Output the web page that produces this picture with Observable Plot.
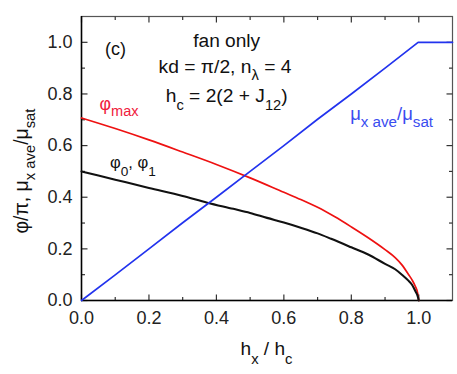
<!DOCTYPE html>
<html><head><meta charset="utf-8">
<script src="https://cdn.jsdelivr.net/npm/d3@7"></script>
<script src="https://cdn.jsdelivr.net/npm/@observablehq/plot@0.6"></script>
<style>body{margin:0;background:#fff} #chart svg{display:block}</style>
</head><body><div id="chart"></div>
<script>
// ---- data ----
const muX = [0, 0.1, 0.2, 0.3, 0.4, 0.5, 0.6, 0.7, 0.8, 0.9, 0.998, 1.1];
const muY = [0, 0.099, 0.2, 0.301, 0.4, 0.5, 0.6, 0.702, 0.8, 0.9, 1.0, 1.0];

const phiMaxX = [0, 0.1, 0.2, 0.3, 0.4, 0.5, 0.6, 0.65, 0.7, 0.75, 0.8, 0.85, 0.9, 0.93, 0.95, 0.97, 0.98, 0.99, 0.997, 1.0];
const phiMaxY = [0.707, 0.666, 0.622, 0.575, 0.527, 0.475, 0.419, 0.391, 0.361, 0.325, 0.285, 0.243, 0.197, 0.166, 0.138, 0.1, 0.08, 0.054, 0.027, 0];

const phi0X = [0, 0.1, 0.2, 0.3, 0.373, 0.45, 0.5, 0.55, 0.6, 0.65, 0.7, 0.74, 0.8, 0.85, 0.9, 0.93, 0.95, 0.97, 0.98, 0.99, 0.997, 1.0];
const phi0Y = [0.5, 0.468, 0.436, 0.405, 0.379, 0.355, 0.339, 0.32, 0.302, 0.282, 0.26, 0.239, 0.206, 0.178, 0.142, 0.121, 0.1, 0.076, 0.061, 0.036, 0.016, 0];

const majorTicks = [0, 0.2, 0.4, 0.6, 0.8, 1.0];
const minorTicks = [0.1, 0.3, 0.5, 0.7, 0.9];

const toRows = (xs, ys) => xs.map((x, i) => ({x, y: ys[i]}));
const muRows = toRows(muX, muY);
const phiMaxRows = toRows(phiMaxX, phiMaxY);
const phi0Rows = toRows(phi0X, phi0Y);

const W = 457, H = 374, mL = 81, mR = 5, mT = 16, mB = 74;
const xDomain = [0, 1.1], yDomain = [0, 1.1];
const fmt = d3.format(".1f");
const tickColor = "#333";
const FONT = "'Liberation Sans', Arial, Helvetica, sans-serif";

// inward tick symbols (dx, dy direction, length in px)
const tickSymbol = (dx, dy, len) => ({draw(context) { context.moveTo(0, 0); context.lineTo(dx * len, dy * len); }});
const tickMarks = (values, len, chan, at, dx, dy) =>
  Plot.dot(values, {[chan]: (d) => d, [chan === "x" ? "y" : "x"]: at, symbol: tickSymbol(dx, dy, len),
    fill: "none", stroke: tickColor, strokeWidth: 1.2});

const plot = Plot.plot({
  width: W, height: H,
  marginLeft: mL, marginRight: mR, marginTop: mT, marginBottom: mB,
  style: {fontFamily: FONT, fontSize: "18px", background: "#fff", color: "#222", overflow: "visible"},
  x: {domain: xDomain},
  y: {domain: yDomain},
  marks: [
    Plot.frame({stroke: "#555", strokeWidth: 1.2}),
    Plot.axisX({anchor: "bottom", ticks: majorTicks, tickSize: 0, tickPadding: 11, tickFormat: fmt, fontSize: 18, fill: "#222", label: null}),
    Plot.axisY({anchor: "left", ticks: majorTicks, tickSize: 0, tickPadding: 9, tickFormat: fmt, fontSize: 18, fill: "#222", label: null}),
    tickMarks(majorTicks, 6, "x", 0, 0, -1),
    tickMarks(minorTicks, 3.5, "x", 0, 0, -1),
    tickMarks(majorTicks, 6, "x", 1.1, 0, 1),
    tickMarks(minorTicks, 3.5, "x", 1.1, 0, 1),
    tickMarks(majorTicks, 6, "y", 0, 1, 0),
    tickMarks(minorTicks, 3.5, "y", 0, 1, 0),
    tickMarks(majorTicks, 6, "y", 1.1, -1, 0),
    tickMarks(minorTicks, 3.5, "y", 1.1, -1, 0),
    Plot.ruleY([0], {stroke: "#000", strokeWidth: 1.5}),
    Plot.ruleX([0], {stroke: "#000", strokeWidth: 1.5}),
    Plot.line(phiMaxRows, {x: "x", y: "y", stroke: "#ee1111", strokeWidth: 1.7, curve: "monotone-x"}),
    Plot.line(phi0Rows, {x: "x", y: "y", stroke: "#111", strokeWidth: 2.1, curve: "monotone-x"}),
    Plot.line(muRows, {x: "x", y: "y", stroke: "#2233ee", strokeWidth: 1.7})
  ]
});
document.getElementById("chart").appendChild(plot);

// scales for annotation placement
const sxObj = plot.scale("x"), syObj = plot.scale("y");
const sx = sxObj && sxObj.apply ? (v) => sxObj.apply(v) : d3.scaleLinear(xDomain, [mL, W - mR]);
const sy = syObj && syObj.apply ? (v) => syObj.apply(v) : d3.scaleLinear(yDomain, [H - mB, mT]);

const svg = d3.select(plot);
const ann = svg.append("g").attr("font-family", FONT);

// text with subscripts; font sizes scaled so that the run has the target width
function rich(parent, parts, opts) {
  const size = opts.size || 17, subSize = opts.subSize || 13, subDy = opts.subDy || 7;
  const t = parent.append("text")
    .attr("text-anchor", opts.anchor || "start")
    .attr("fill", opts.fill || "#111")
    .attr("font-size", size);
  let shifted = 0;
  const spans = [];
  for (const [s, sub] of parts) {
    const ts = t.append("tspan").text(s);
    if (sub) {
      ts.attr("dy", subDy - shifted);
      shifted = subDy;
    } else if (shifted) {
      ts.attr("dy", -shifted);
      shifted = 0;
    }
    spans.push([ts, sub ? subSize : size]);
  }
  for (const [ts, fs] of spans) ts.attr("font-size", fs);
  if (opts.width) {
    const L = t.node().getComputedTextLength();
    if (L > 0) {
      const k = Math.max(0.8, Math.min(1.25, opts.width / L));
      for (const [ts, fs] of spans) ts.attr("font-size", fs * k);
    }
  }
  return t;
}

// panel annotations (positions in data units)
rich(ann, [["(c)"]], {width: 21}).attr("x", sx(0.071)).attr("y", sy(0.948));
rich(ann, [["fan only"]], {anchor: "middle", width: 67}).attr("x", sx(0.432)).attr("y", sy(0.981));
rich(ann, [["kd = π/2, n"], ["λ", 1], [" = 4"]], {anchor: "middle", width: 133}).attr("x", sx(0.427)).attr("y", sy(0.880));
rich(ann, [["h"], ["c", 1], [" = 2(2 + J"], ["12", 1], [")"]], {anchor: "middle", subDy: 8, width: 122}).attr("x", sx(0.432)).attr("y", sy(0.768));
rich(ann, [["φ"], ["max", 1]], {fill: "#f0203c", subSize: 14, subDy: 6, width: 39}).attr("x", sx(0.055)).attr("y", sy(0.735));
rich(ann, [["φ"], ["0", 1], [", φ"], ["1", 1]], {subSize: 14, subDy: 8, width: 46}).attr("x", sx(0.086)).attr("y", sy(0.512));
rich(ann, [["μ"], ["x ave", 1], ["/μ"], ["sat", 1]], {fill: "#3a4cf0", subSize: 14, subDy: 7, width: 83}).attr("x", sx(0.798)).attr("y", sy(0.698));

// axis titles
rich(ann, [["h"], ["x", 1], [" / h"], ["c", 1]], {anchor: "middle", size: 18, subSize: 14, subDy: 9, width: 52})
  .attr("x", (mL + W - mR) / 2).attr("y", 355);
rich(ann.append("g").attr("transform", `translate(28,${171}) rotate(-90)`),
  [["φ/π, μ"], ["x ave", 1], ["/μ"], ["sat", 1]], {anchor: "middle", size: 17, subSize: 13, subDy: 7, width: 125});
</script>
</body></html>
